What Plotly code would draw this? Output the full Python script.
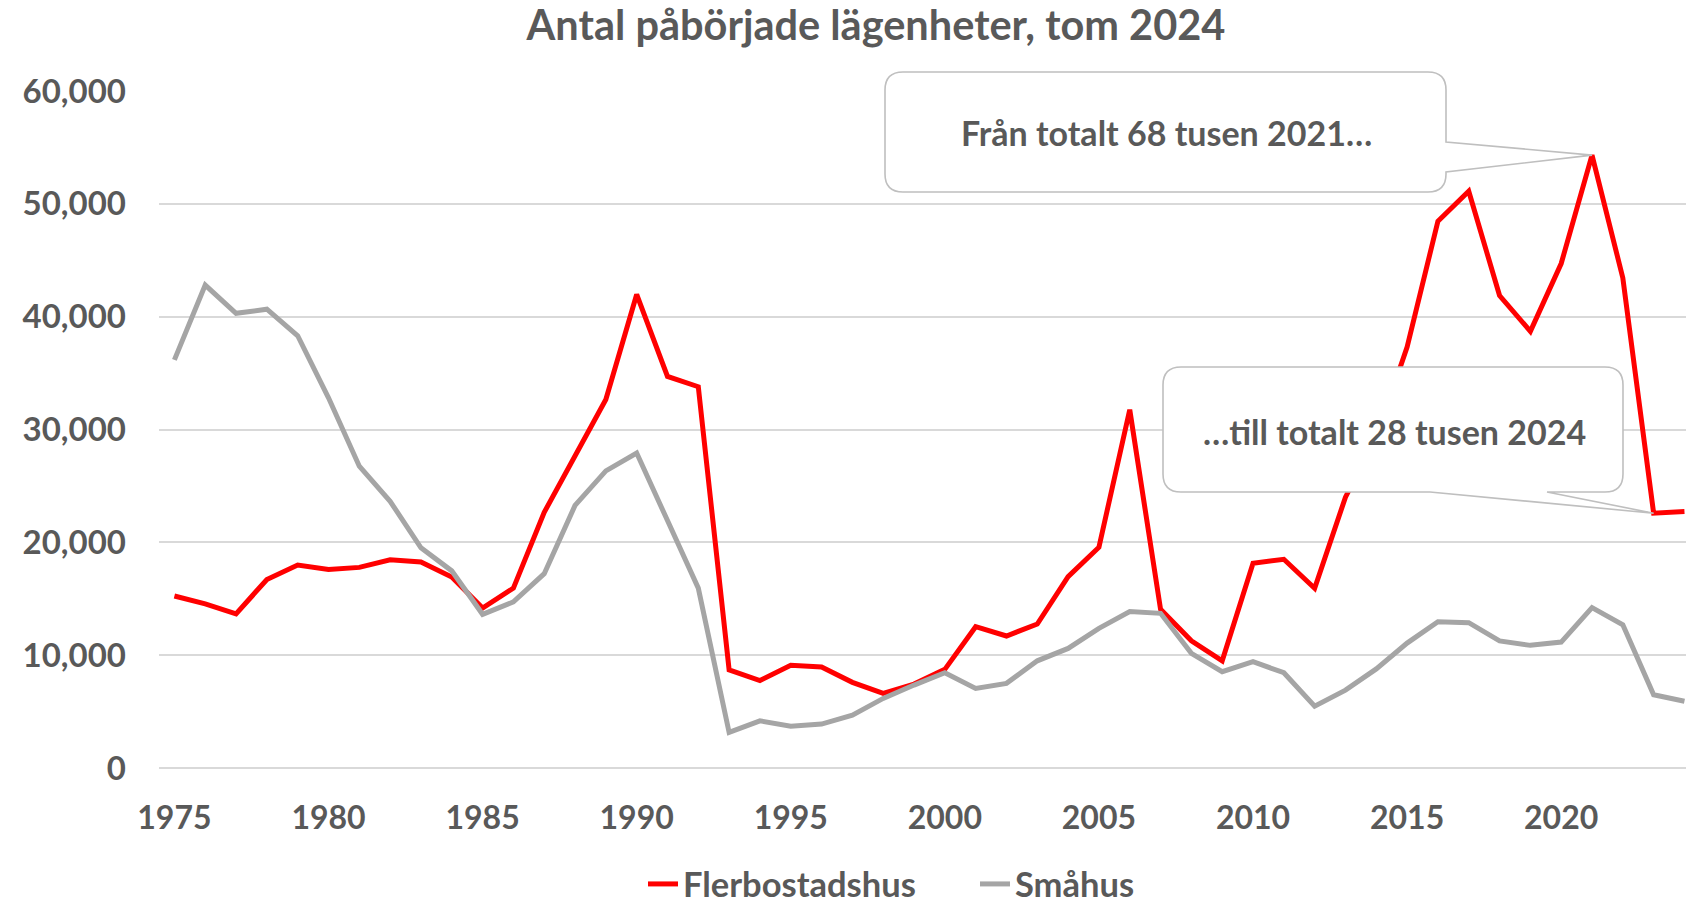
import plotly.graph_objects as go

# Påbörjade lägenheter per år
years = list(range(1975, 2025))
flerbostadshus = [
    15240, 14540, 13650, 16710, 17990, 17590, 17780, 18450, 18260, 16920,
    14170, 15940, 22660, 27650, 32660, 41970, 34700, 33790, 8700, 7750,
    9100, 8950, 7590, 6610, 7440, 8740, 12520, 11700, 12760, 16960,
    19570, 31750, 14060, 11280, 9500, 18150, 18500, 15930, 24000, 29300,
    37300, 48460, 51120, 41870, 38700, 44710, 54320, 43440, 22580, 22730,
]
smahus = [
    36170, 42800, 40300, 40660, 38310, 32810, 26750, 23640, 19510, 17470,
    13620, 14720, 17220, 23270, 26330, 27910, 21930, 15940, 3150, 4180,
    3710, 3890, 4690, 6170, 7350, 8440, 7050, 7500, 9500, 10600,
    12380, 13860, 13710, 10160, 8530, 9420, 8440, 5480, 6900, 8780,
    11070, 12970, 12880, 11260, 10870, 11160, 14210, 12690, 6490, 5910,
]
x_ticks = [1975, 1980, 1985, 1990, 1995, 2000, 2005, 2010, 2015, 2020]
y_ticks = [0, 10000, 20000, 30000, 40000, 50000, 60000]

TEXT = "#595959"
GRID = "#D9D9D9"
BORDER = "#BFBFBF"
FONT = "Lato"

W, H = 1686, 902
PL, PR, PT, PB = 159, 1686, 91, 768
X_RANGE = [1974.5, 2024.05]
Y_RANGE = [0, 60000]


def to_paper(px, py):
    return (px - PL) / (PR - PL), (PB - py) / (PB - PT)


def data_px(year, val):
    px = PL + (year - X_RANGE[0]) / (X_RANGE[1] - X_RANGE[0]) * (PR - PL)
    py = PB - (val - Y_RANGE[0]) / (Y_RANGE[1] - Y_RANGE[0]) * (PB - PT)
    return px, py


def callout_path(x0, y0, x1, y1, r, side, a, b, tip):
    # rundad ruta med en spets mot datapunkten
    pts = [("M", (x0 + r, y0)), ("L", (x1 - r, y0)), ("Q", (x1, y0), (x1, y0 + r))]
    if side == "right":
        pts += [("L", (x1, a)), ("L", tip), ("L", (x1, b))]
    pts += [("L", (x1, y1 - r)), ("Q", (x1, y1), (x1 - r, y1))]
    if side == "bottom":
        pts += [("L", (a, y1)), ("L", tip), ("L", (b, y1))]
    pts += [("L", (x0 + r, y1)), ("Q", (x0, y1), (x0, y1 - r)),
            ("L", (x0, y0 + r)), ("Q", (x0, y0), (x0 + r, y0))]
    out = []
    for p in pts:
        cmd = p[0]
        coords = " ".join("%.5f,%.5f" % to_paper(*c) for c in p[1:])
        out.append(cmd + coords)
    return " ".join(out) + " Z"


fig = go.Figure()
fig.add_trace(go.Scatter(x=years, y=flerbostadshus, name="Flerbostadshus",
                         mode="lines", line=dict(color="#FF0000", width=5)))
fig.add_trace(go.Scatter(x=years, y=smahus, name="Småhus",
                         mode="lines", line=dict(color="#A5A5A5", width=5)))

i21 = years.index(2021)
i23 = years.index(2023)
tip1 = data_px(years[i21], flerbostadshus[i21])
tip2 = data_px(years[i23], flerbostadshus[i23])

fig.add_shape(type="path", xref="paper", yref="paper", layer="above",
              path=callout_path(885, 72, 1446, 192, 18, "right", 142, 172, tip1),
              fillcolor="white", line=dict(color=BORDER, width=1.6))
fig.add_shape(type="path", xref="paper", yref="paper", layer="above",
              path=callout_path(1163, 367, 1623, 492, 18, "bottom", 1547, 1430, tip2),
              fillcolor="white", line=dict(color=BORDER, width=1.6))

bold = dict(family=FONT, color=TEXT, weight="bold")

ax, ay = to_paper(1166, 132)
fig.add_annotation(x=ax, y=ay, xref="paper", yref="paper", showarrow=False,
                   xanchor="center", yanchor="middle",
                   text="Från totalt 68 tusen 2021…", font=dict(bold, size=34))
ax, ay = to_paper(1394, 432)
fig.add_annotation(x=ax, y=ay, xref="paper", yref="paper", showarrow=False,
                   xanchor="center", yanchor="middle",
                   text="…till totalt 28 tusen 2024", font=dict(bold, size=34))

fig.update_layout(
    width=W, height=H,
    margin=dict(l=PL, r=W - PR, t=PT, b=H - PB, autoexpand=False),
    plot_bgcolor="white", paper_bgcolor="white",
    font=dict(family=FONT, color=TEXT),
    title=dict(text="Antal påbörjade lägenheter, tom 2024",
               x=876 / W, xref="container", xanchor="center",
               y=1 - 25 / H, yref="container", yanchor="middle",
               font=dict(bold, size=41.5)),
    showlegend=True,
    legend=dict(orientation="h", xref="container", x=975 / W, xanchor="center",
                yref="container", y=1 - 884 / H, yanchor="middle",
                entrywidth=287, entrywidthmode="pixels",
                font=dict(bold, size=34.5), bgcolor="rgba(0,0,0,0)"),
    xaxis=dict(range=X_RANGE, tickvals=x_ticks, showgrid=False, zeroline=False,
               showline=False, ticks="", ticklabelstandoff=28, automargin=False,
               tickfont=dict(bold, size=32)),
    yaxis=dict(range=Y_RANGE, tickvals=y_ticks, tickformat=",", showgrid=True,
               gridcolor=GRID, gridwidth=1.5, zeroline=True, zerolinecolor=GRID,
               zerolinewidth=1.5, showline=False, ticks="", ticklabelstandoff=32,
               automargin=False, tickfont=dict(bold, size=33)),
)

fig.write_html("out.html", config={"displayModeBar": False},
               post_script="document.body.style.margin='0';")
